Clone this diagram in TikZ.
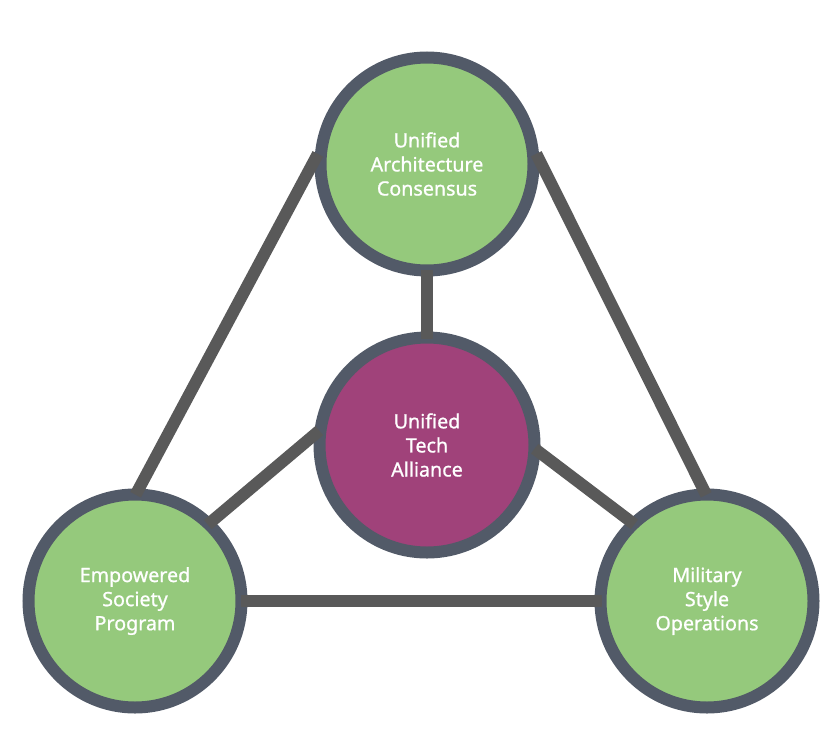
\documentclass[tikz,border=0pt]{standalone}
\usepackage{fontspec}
\newfontfamily\labelfont{Noto Sans}[FakeBold=0.9]
\definecolor{ringgray}{HTML}{525A68}
\definecolor{leafgreen}{HTML}{95C97C}
\definecolor{hubplum}{HTML}{A0427A}
\definecolor{linkgray}{HTML}{595959}
\tikzset{
  pillar/.style={circle,draw=ringgray,line width=0.24cm,fill=leafgreen,
    minimum size=4.26cm,align=center,text=white,
    font=\labelfont\fontsize{11.2}{13.7}\selectfont},
  hub/.style={pillar,fill=hubplum,minimum size=4.3cm},
  link/.style={draw=linkgray,line width=0.24cm,shorten <=-0.14cm,shorten >=-0.14cm}
}
\begin{document}
\begin{tikzpicture}
      \useasboundingbox (0,0) rectangle (16.78,-14.78);
      \node[pillar] (top) at (8.54,-3.28) {Unified\\Architecture\\Consensus};
      \node[hub] (hub) at (8.54,-8.9) {Unified\\Tech\\Alliance};
      \node[pillar] (left) at (2.7,-12.02) {Empowered\\Society\\Program};
      \node[pillar] (right) at (14.14,-12.02) {Military\\Style\\Operations};
      \begin{scope}[link]
        \draw (top.178) to (left.88);
        \draw (top.2) to (right.92);
        \draw (left.east) to (right.west);
        \draw (top.south) to (hub.north);
        \draw (hub.175) to (left.46);
        \draw (hub.-4) to (right.134);
      \end{scope}
    \end{tikzpicture}
\end{document}
